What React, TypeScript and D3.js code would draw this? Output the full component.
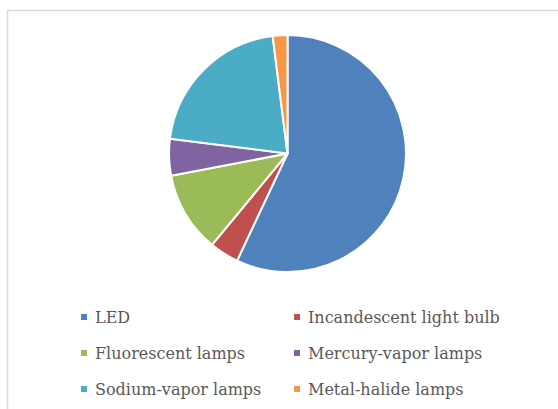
import React from "react";
import * as d3 from "d3";

const categories = [
  "LED",
  "Incandescent light bulb",
  "Fluorescent lamps",
  "Mercury-vapor lamps",
  "Sodium-vapor lamps",
  "Metal-halide lamps",
];
const values = [57, 4, 11, 5, 21, 2];
const colors = ["#4F81BD", "#C0504D", "#9BBB59", "#8064A2", "#4BACC6", "#F79646"];

const W = 558;
const H = 409;
const cx = 287.5;
const cy = 153.5;
const R = 118.5;

export default function App() {
  const pie = d3.pie<number>().sort(null).value((d) => d);
  const arcs = pie(values);
  const arc = d3.arc<d3.PieArcDatum<number>>().innerRadius(0).outerRadius(R);

  const colX = [81, 294];
  const rowY = [317, 353, 389];

  return (
    <svg
      width={W}
      height={H}
      style={{ position: "absolute", left: 0, top: 0, background: "#fff" }}
    >
      <rect x={7.5} y={10.5} width={W} height={H} fill="#fff" stroke="#d9d9d9" strokeWidth={1.5} />
      <g transform={`translate(${cx},${cy})`}>
        {arcs.map((a, i) => (
          <path key={i} d={arc(a) || ""} fill={colors[i]} stroke="#fff" strokeWidth={2} strokeLinejoin="round" />
        ))}
      </g>
      {categories.map((c, i) => {
        const x = colX[i % 2];
        const y = rowY[Math.floor(i / 2)];
        return (
          <g key={c} transform={`translate(${x},${y})`}>
            <rect x={0} y={-3} width={6} height={6} fill={colors[i]} />
            <text
              x={14}
              y={0}
              dy="0.36em"
              fontFamily="'DejaVu Serif', serif"
              fontSize={16}
              fill="#595959"
            >
              {c}
            </text>
          </g>
        );
      })}
    </svg>
  );
}
